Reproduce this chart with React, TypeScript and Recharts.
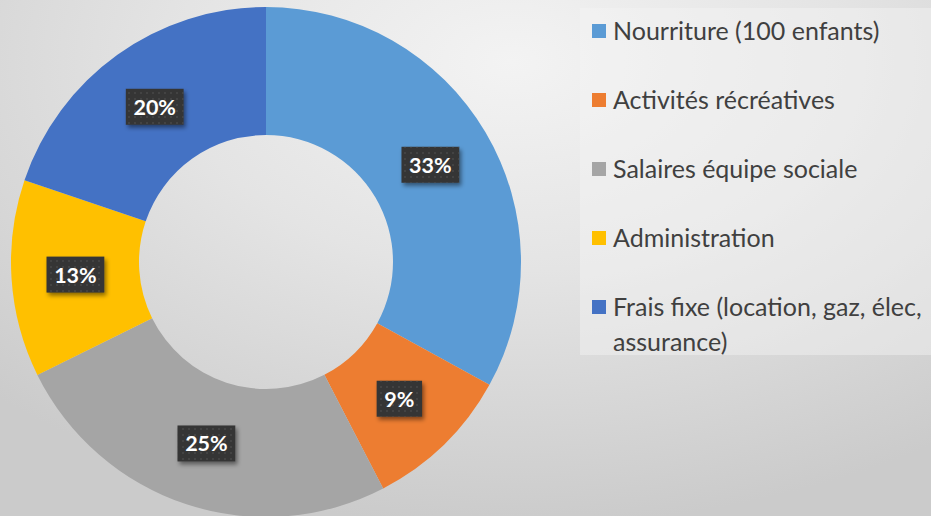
import { Legend, Pie, PieChart, Cell } from "recharts";

// Budget breakdown — Office 2013 palette, donut starting at 12 o'clock.
// Shares; labels round them to whole percents.
const categories = [
  "Nourriture (100 enfants)",
  "Activités récréatives",
  "Salaires équipe sociale",
  "Administration",
  "Frais fixe (location, gaz, élec, assurance)",
];
const shares = [33, 9.4, 25.3, 12.5, 19.8];
const colors = ["#5B9BD5", "#ED7D31", "#A5A5A5", "#FFC000", "#4472C4"];

const data = categories.map((name, i) => ({ name, value: shares[i] }));

const FONT = "Lato, 'Open Sans', sans-serif";
const RAD = Math.PI / 180;

function renderLabel(props: any) {
  const { cx, cy, midAngle, innerRadius, outerRadius, percent } = props;
  const r = (innerRadius + outerRadius) / 2;
  const x = cx + r * Math.cos(-midAngle * RAD);
  const y = cy + r * Math.sin(-midAngle * RAD);
  const text = `${Math.round(percent * 100)}%`;
  const w = 16 + (text.length - 1) * 12.4 + 17;
  const h = 36;
  return (
    <g>
      <rect
        x={x - w / 2}
        y={y - h / 2}
        width={w}
        height={h}
        fill="#353535"
        filter="url(#lblShadow)"
      />
      <rect x={x - w / 2} y={y - h / 2} width={w} height={h} fill="url(#dots)" />
      <text
        x={x}
        y={y}
        fill="#ffffff"
        textAnchor="middle"
        dominantBaseline="central"
        fontFamily={FONT}
        fontWeight={700}
        fontSize={21.5}
      >
        {text}
      </text>
    </g>
  );
}

function LegendBox() {
  return (
    <div
      style={{
        width: 351,
        height: 347,
        background: "rgba(244,244,244,0.45)",
        fontFamily: FONT,
        fontSize: 25,
        color: "#404040",
        paddingTop: 5,
        boxSizing: "border-box",
      }}
    >
      {data.map((d, i) => (
        <div key={d.name} style={{ display: "flex", alignItems: "flex-start", marginBottom: 34 }}>
          <span
            style={{
              display: "inline-block",
              width: 14,
              height: 14,
              background: colors[i],
              marginLeft: 12,
              marginRight: 7,
              marginTop: 11,
              flexShrink: 0,
            }}
          />
          <span style={{ lineHeight: "35px", width: 318, whiteSpace: "normal" }}>{d.name}</span>
        </div>
      ))}
    </div>
  );
}

export default function App() {
  return (
    <div
      style={{
        position: "absolute",
        left: 0,
        top: 0,
        width: 931,
        height: 516,
        background:
          "radial-gradient(ellipse 80% 90% at 55% 12%, #f3f3f3 0%, #e4e4e4 45%, #cbcbcb 100%)",
        overflow: "hidden",
      }}
    >
      <PieChart width={931} height={516} margin={{ top: 0, right: 0, bottom: 0, left: 0 }}>
        <defs>
          <filter id="lblShadow" x="-30%" y="-30%" width="160%" height="160%">
            <feDropShadow dx={2} dy={3} stdDeviation={2} floodColor="#000" floodOpacity={0.45} />
          </filter>
          <pattern id="dots" width={6} height={6} patternUnits="userSpaceOnUse">
            <circle cx={3} cy={3} r={0.7} fill="#5a5a5a" />
          </pattern>
        </defs>
        <Pie
          data={data}
          dataKey="value"
          nameKey="name"
          cx={266}
          cy={262}
          innerRadius={127}
          outerRadius={255}
          startAngle={90}
          endAngle={-270}
          stroke="none"
          label={renderLabel}
          labelLine={false}
          isAnimationActive={false}
        >
          {data.map((d, i) => (
            <Cell key={d.name} fill={colors[i]} />
          ))}
        </Pie>
        <Legend
          content={() => <LegendBox />}
          wrapperStyle={{ left: 580, top: 8, width: 351, height: 347 }}
        />
      </PieChart>
    </div>
  );
}
